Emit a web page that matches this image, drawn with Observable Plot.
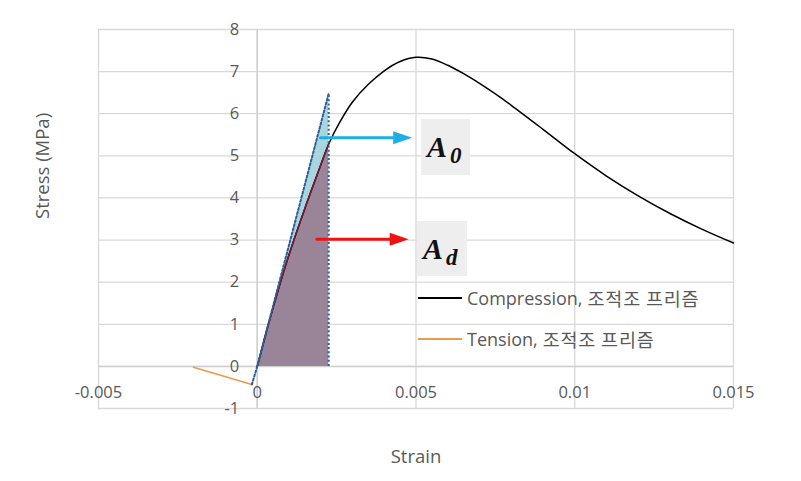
<!DOCTYPE html>
<html>
<head>
<meta charset="utf-8">
<script src="https://cdn.jsdelivr.net/npm/d3@7"></script>
<script src="https://cdn.jsdelivr.net/npm/@observablehq/plot@0.6"></script>
<style>
  html, body { margin: 0; padding: 0; background: #fff; }
  #wrap { position: relative; width: 801px; height: 481px; font-family: "Open Sans", "Noto Sans CJK KR", sans-serif; }
  #wrap svg { position: absolute; left: 0; top: 0; }
  .lbl { position: absolute; background: #eeeeee; font-family: "Liberation Serif", "DejaVu Serif", serif; font-style: italic; font-weight: bold; color: #111; }
  .lbl .A { position: absolute; font-size: 30px; line-height: 1; }
  .lbl .s { position: absolute; font-size: 23px; line-height: 1; }
  .leg { position: absolute; display: flex; align-items: center; color: #595959; font-size: 18px; white-space: nowrap; }
  .leg .sw { width: 44px; height: 2px; margin-right: 5px; }
  .leg .ko { font-family: "Noto Sans CJK KR", sans-serif; font-size: 18.5px; letter-spacing: 0.8px; }
</style>
</head>
<body>
<div id="wrap"></div>
<script>
// Compression curve (조적조 프리즘)
const compStrain = [0, 0.0005, 0.001, 0.0015, 0.002, 0.00225, 0.0026, 0.003, 0.0035, 0.004, 0.0045, 0.005, 0.0055, 0.006, 0.0065, 0.007, 0.0075, 0.008, 0.009, 0.010, 0.011, 0.012, 0.013, 0.014, 0.015];
const compStress = [0, 1.40, 2.65, 3.75, 4.78, 5.28, 5.80, 6.28, 6.70, 7.02, 7.24, 7.34, 7.30, 7.15, 6.95, 6.72, 6.47, 6.20, 5.63, 5.05, 4.52, 4.05, 3.63, 3.26, 2.93];
// Tension curve
const tenStrain = [-0.00201, -0.0011, -0.00017];
const tenStress = [-0.02, -0.22, -0.43];
// Secant line for A0 triangle
const secStrain = [-0.00017, 0, 0.00225];
const secStress = [-0.43, 0, 6.48];
const cutStrain = 0.00225;
// Arrows
const arrowStart = [0.00199, 0.00188];
const arrowTip = [0.00488, 0.00477];
const arrowStress = [5.43, 3.02];
const arrowColor = ["#1eaee6", "#f21111"];
// Ticks
const xTicks = [-0.005, 0, 0.005, 0.01, 0.015];
const xTickLabels = ["-0.005", "0", "0.005", "0.01", "0.015"];
const yTicks = [-1, 0, 1, 2, 3, 4, 5, 6, 7, 8];
const yTickLabels = ["-1", "0", "1", "2", "3", "4", "5", "6", "7", "8"];

const comp = compStrain.map((x, i) => ({x, y: compStress[i]}));
const compIn = comp.filter(d => d.x <= cutStrain);
const ten = tenStrain.map((x, i) => ({x, y: tenStress[i]}));
const sec = secStrain.map((x, i) => ({x, y: secStress[i]}));
const tri = sec.filter(d => d.x >= 0);
const arrows = arrowStart.map((x1, i) => ({x1, x2: arrowTip[i], y: arrowStress[i], c: arrowColor[i]}));

const headSymbol = {
  draw(ctx) {
    ctx.moveTo(-9.5, -6.5);
    ctx.lineTo(9.5, 0);
    ctx.lineTo(-9.5, 6.5);
    ctx.closePath();
  }
};

const gray = "#595959";
const dash = "2,2.2";
const chart = Plot.plot({
  width: 801,
  height: 481,
  marginLeft: 98,
  marginRight: 68,
  marginTop: 29,
  marginBottom: 73,
  x: {domain: [-0.005, 0.015], axis: null},
  y: {domain: [-1, 8], axis: null},
  style: {fontFamily: "'Open Sans', sans-serif", background: "transparent"},
  marks: [
    Plot.gridX(xTicks, {stroke: "#d9d9d9", strokeOpacity: 1, strokeWidth: 1.3}),
    Plot.gridY(yTicks, {stroke: "#d9d9d9", strokeOpacity: 1, strokeWidth: 1.3}),
    Plot.ruleY([0], {stroke: "#cfcfcf", strokeWidth: 1.5}),
    Plot.ruleX([0], {stroke: "#cfcfcf", strokeWidth: 1.5}),
    // A0 triangle
    Plot.areaY(tri, {x: "x", y: "y", fill: "#a9d5df", fillOpacity: 1}),
    // Ad area under curve
    Plot.areaY(compIn, {x: "x", y: "y", fill: "#9a8497", curve: "catmull-rom"}),
    // curves
    Plot.line(comp, {x: "x", y: "y", stroke: "#000", strokeWidth: 1.5, curve: "catmull-rom"}),
    Plot.line(compIn, {x: "x", y: "y", stroke: "#7d1a35", strokeWidth: 1.5, curve: "catmull-rom"}),
    Plot.line(ten, {x: "x", y: "y", stroke: "#ed9a4c", strokeWidth: 1.6}),
    // dotted outlines
    Plot.line(sec, {x: "x", y: "y", stroke: "#2f5f96", strokeWidth: 2, strokeDasharray: dash}),
    Plot.ruleX([cutStrain], {y1: 0, y2: secStress[2], stroke: "#2f5f96", strokeWidth: 2, strokeDasharray: dash}),
    // arrows
    Plot.arrow(arrows, {x1: "x1", x2: "x2", y1: "y", y2: "y", stroke: "c", strokeWidth: 3, headLength: 0, insetEnd: 14}),
    Plot.dot(arrows, {x: "x2", y: "y", fill: "c", symbol: headSymbol, r: 6, dx: -9.5}),
    // tick labels
    Plot.text(xTicks, {x: d => d, y: 0, text: (d, i) => xTickLabels[i], dy: 26, fill: gray, fontSize: 16.5}),
    Plot.text(yTicks, {x: 0, y: d => d, text: (d, i) => yTickLabels[i], dx: -18, textAnchor: "end", fill: gray, fontSize: 16.5}),
    // axis titles
    Plot.text(["Stress (MPa)"], {frameAnchor: "left", dx: -55, rotate: -90, fill: gray, fontSize: 18.5}),
    Plot.text(["Strain"], {frameAnchor: "bottom", dy: 54, fill: gray, fontSize: 18.5})
  ]
});
chart.style.color = "transparent";
const wrap = document.getElementById("wrap");
wrap.appendChild(chart);
wrap.insertAdjacentHTML("beforeend", `
  <div class="lbl" style="left:421px;top:119px;width:49px;height:56px">
    <span class="A" style="left:6px;top:13px">A</span><span class="s" style="left:29px;top:25px">0</span>
  </div>
  <div class="lbl" style="left:417px;top:221px;width:50px;height:55px">
    <span class="A" style="left:6px;top:13px">A</span><span class="s" style="left:29px;top:25px">d</span>
  </div>
  <div class="leg" style="left:418px;top:285px"><span class="sw" style="background:#000"></span><span>Compression,</span><span class="ko">&nbsp;조적조 프리즘</span></div>
  <div class="leg" style="left:418px;top:326px"><span class="sw" style="background:#ed9a4c"></span><span>Tension,</span><span class="ko">&nbsp;조적조 프리즘</span></div>
`);
</script>
</body>
</html>
